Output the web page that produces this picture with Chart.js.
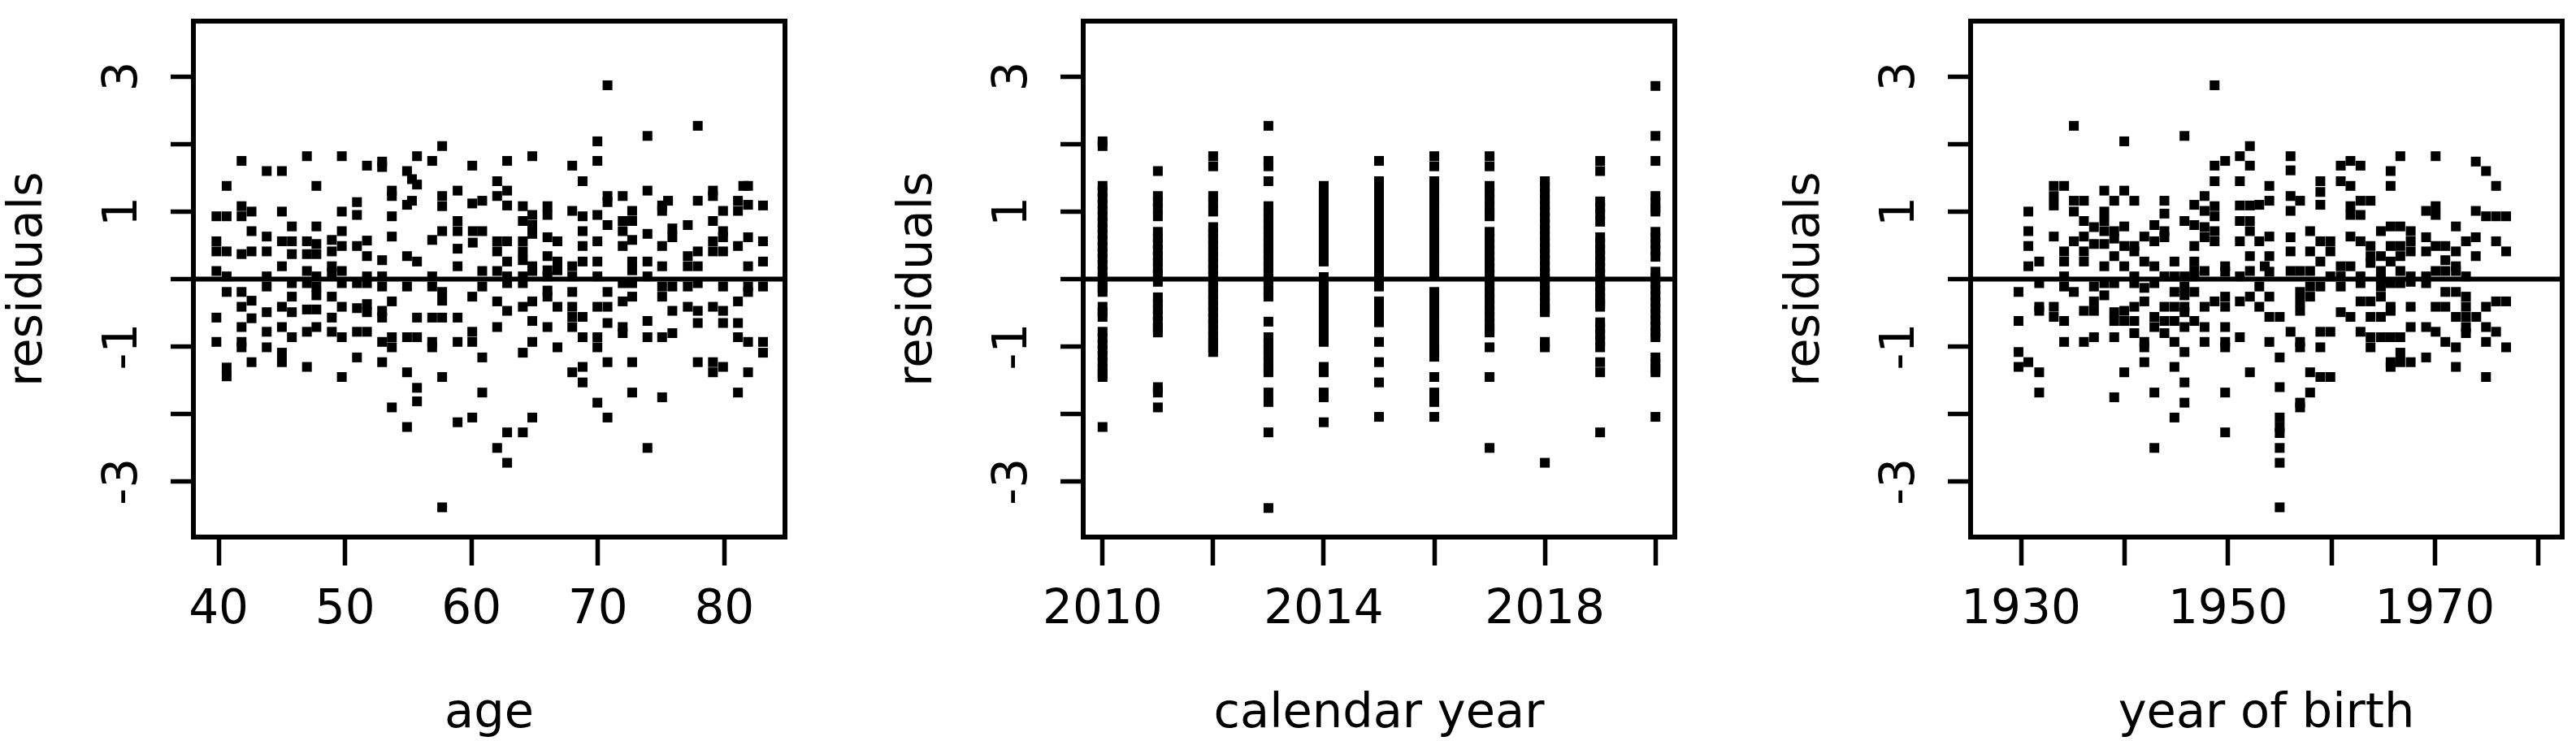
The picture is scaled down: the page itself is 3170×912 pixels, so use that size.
<!DOCTYPE html>
<html lang="en">
<head>
    <meta charset="UTF-8">
    <title>Residuals</title>
    <script src="https://cdn.jsdelivr.net/npm/chart.js"></script>
    <style>
        html, body { margin: 0; padding: 0; background: #fff; }
        body { width: 3170px; height: 912px; position: relative; overflow: hidden; }
        canvas { position: absolute; top: 0; }
    </style>
</head>
<body>
    <canvas id="ageChart" width="1095" height="912" style="left:0px"></canvas>
    <canvas id="yearChart" width="1092" height="912" style="left:1095px"></canvas>
    <canvas id="birthChart" width="983" height="912" style="left:2187px"></canvas>

    <script>
        // residuals against age: [age, residual]
        const ageResiduals = [
            [57.68,1.97],[41.81,1.75],[46.98,1.82],[49.74,1.82],[55.69,1.82],[56.89,1.75],[43.80,1.60],[45.00,1.60],
            [51.73,1.68],[52.93,1.74],[52.93,1.66],[60.06,1.68],[54.90,1.60],[55.29,1.48],[55.69,1.40],[40.63,1.38],
            [47.73,1.38],[53.70,1.31],[53.70,1.23],[58.90,1.31],[57.68,1.23],[57.68,1.08],[60.06,1.12],[60.85,1.16],
            [55.29,1.16],[54.90,1.10],[50.94,1.14],[50.94,0.95],[39.82,0.93],[40.63,0.93],[41.81,1.08],[42.60,1.00],
            [41.81,0.93],[45.00,1.00],[49.74,1.00],[53.70,0.93],[42.60,0.71],[45.79,0.78],[47.73,0.78],[49.74,0.71],
            [53.70,0.63],[58.90,0.86],[58.90,0.71],[58.90,0.45],[56.89,0.58],[57.68,0.71],[60.10,0.71],[60.85,0.71],
            [60.10,0.54],[39.82,0.56],[39.82,0.41],[40.63,0.41],[41.81,0.37],[42.60,0.41],[43.80,0.63],[43.80,0.41],
            [45.00,0.56],[45.79,0.56],[45.79,0.37],[46.98,0.56],[47.73,0.52],[46.98,0.37],[47.73,0.37],[48.95,0.58],
            [48.95,0.41],[48.95,0.19],[49.74,0.49],[50.94,0.49],[51.73,0.57],[51.73,0.34],[52.93,0.28],[54.90,0.34],
            [55.69,0.26],[39.82,0.12],[40.63,0.04],[43.80,0.04],[45.00,0.19],[46.98,0.12],[47.73,0.04],[48.95,0.10],
            [49.74,0.12],[51.73,0.04],[52.93,0.04],[56.89,0.04],[58.90,0.19],[60.85,0.12],[43.80,-0.11],[45.79,-0.06],
            [46.98,-0.06],[47.73,-0.11],[49.74,-0.06],[50.94,-0.06],[51.73,-0.06],[52.93,-0.11],[54.90,-0.11],[56.89,-0.11],
            [57.68,-0.19],[60.85,-0.11],[40.63,-0.19],[41.81,-0.19],[42.60,-0.32],[41.81,-0.41],[45.79,-0.26],[45.00,-0.41],
            [45.79,-0.49],[46.98,-0.45],[47.73,-0.24],[47.73,-0.45],[48.95,-0.26],[49.74,-0.41],[50.94,-0.43],[51.73,-0.37],
            [51.73,-0.49],[53.70,-0.33],[52.93,-0.47],[60.06,-0.26],[57.68,-0.32],[39.82,-0.57],[42.60,-0.58],[43.80,-0.49],
            [48.95,-0.57],[52.93,-0.57],[55.69,-0.57],[56.89,-0.57],[57.68,-0.57],[58.90,-0.57],[41.81,-0.71],[43.80,-0.78],
            [45.00,-0.71],[45.79,-0.86],[46.98,-0.78],[47.73,-0.71],[48.95,-0.78],[49.74,-0.86],[50.94,-0.78],[51.73,-0.78],
            [52.93,-0.93],[53.70,-0.86],[53.70,-1.01],[54.90,-0.86],[55.69,-0.86],[56.89,-0.93],[56.89,-1.01],[58.90,-0.93],
            [60.06,-0.78],[60.06,-0.93],[39.82,-0.93],[41.81,-0.93],[41.81,-1.01],[43.80,-1.01],[45.00,-1.09],[45.00,-1.23],
            [42.60,-1.23],[50.94,-1.16],[52.93,-1.23],[60.85,-1.16],[40.63,-1.31],[40.63,-1.44],[46.98,-1.30],[49.74,-1.45],
            [54.90,-1.38],[57.68,-1.45],[55.69,-1.61],[55.69,-1.81],[60.85,-1.68],[53.70,-1.90],[54.90,-2.19],[58.90,-2.12],
            [60.06,-2.05],[57.68,-3.38],
            [70.76,2.87],[77.90,2.27],[73.92,2.12],[69.96,2.04],[62.82,1.75],[64.81,1.82],[67.97,1.68],[69.96,1.75],
            [62.03,1.45],[68.79,1.45],[62.82,1.31],[62.03,1.23],[62.82,1.09],[70.76,1.23],[70.76,1.14],[71.96,1.23],
            [73.92,1.31],[75.55,1.16],[75.08,1.09],[75.08,1.01],[77.90,1.16],[79.10,1.31],[79.10,1.23],[81.50,1.38],
            [81.88,1.38],[81.08,1.16],[81.08,1.01],[81.88,1.10],[83.06,1.09],[79.90,1.01],[64.06,1.08],[64.06,0.86],
            [64.81,0.95],[64.81,0.80],[64.81,0.67],[66.01,1.08],[66.01,0.95],[67.97,1.01],[68.79,0.93],[68.79,0.71],
            [69.96,0.95],[70.76,0.80],[71.96,0.86],[71.96,0.71],[72.71,1.01],[72.71,0.86],[73.92,0.67],[75.89,0.75],
            [75.89,0.62],[77.11,0.80],[79.10,0.86],[79.90,0.71],[79.90,0.62],[62.03,0.56],[62.82,0.56],[62.03,0.41],
            [62.82,0.26],[64.06,0.56],[64.06,0.41],[64.06,0.28],[64.81,0.19],[66.01,0.62],[66.80,0.56],[66.01,0.34],
            [66.80,0.26],[66.80,0.13],[66.01,0.13],[67.97,0.19],[68.79,0.26],[68.79,0.49],[69.96,0.56],[69.96,0.26],
            [71.96,0.49],[72.71,0.58],[72.71,0.26],[72.71,0.13],[73.92,0.26],[75.08,0.49],[75.08,0.19],[77.11,0.34],
            [77.90,0.41],[77.90,0.19],[77.11,0.19],[79.10,0.56],[79.10,0.41],[79.90,0.41],[81.08,0.49],[81.88,0.62],
            [81.88,0.19],[83.06,0.56],[83.06,0.26],[62.03,0.12],[62.82,0.04],[64.06,0.04],[64.81,0.12],[66.01,0.04],
            [67.97,0.04],[69.96,0.04],[73.92,0.04],[62.82,-0.06],[64.06,-0.06],[66.01,-0.17],[67.97,-0.19],[70.76,-0.19],
            [71.96,-0.06],[72.71,-0.06],[75.08,-0.11],[75.89,-0.11],[75.08,-0.26],[77.11,-0.11],[77.90,-0.06],[79.90,-0.11],
            [81.88,-0.11],[81.88,-0.19],[83.06,-0.11],[62.03,-0.33],[62.82,-0.47],[64.06,-0.41],[64.81,-0.33],[66.01,-0.26],
            [66.80,-0.41],[67.97,-0.41],[67.97,-0.56],[68.79,-0.56],[69.96,-0.41],[70.76,-0.41],[70.76,-0.65],[71.96,-0.33],
            [72.71,-0.26],[75.89,-0.47],[77.11,-0.41],[77.90,-0.47],[77.90,-0.65],[79.10,-0.41],[79.90,-0.47],[79.90,-0.65],
            [81.08,-0.33],[81.08,-0.65],[62.03,-0.71],[64.81,-0.62],[66.01,-0.71],[67.97,-0.71],[71.96,-0.71],[71.96,-0.80],
            [73.92,-0.62],[73.92,-0.86],[75.08,-0.86],[75.89,-0.80],[81.08,-0.86],[81.88,-0.93],[83.06,-0.93],[83.06,-1.09],
            [64.81,-0.93],[64.06,-1.09],[66.80,-1.01],[68.79,-0.86],[69.96,-0.86],[69.96,-1.01],[67.97,-1.38],[68.79,-1.30],
            [68.79,-1.53],[70.76,-1.23],[72.71,-1.23],[77.90,-1.23],[79.10,-1.23],[79.10,-1.38],[79.90,-1.30],[81.88,-1.38],
            [72.71,-1.68],[75.08,-1.75],[81.08,-1.68],[69.96,-1.83],[64.81,-2.05],[70.76,-2.05],[62.82,-2.27],[64.06,-2.27],
            [62.03,-2.50],[73.92,-2.50],[62.82,-2.72]
        ];

        // residuals per calendar year
        const calendarYears = [2010, 2011, 2012, 2013, 2014, 2015, 2016, 2017, 2018, 2019, 2020];
        const res2010 = [2.04,1.97,1.38,1.29,1.2,1.11,1.02,0.93,0.84,0.75,0.66,0.57,0.48,0.39,0.3,0.21,0.12,0.03,-0.06,-0.13,-0.19,-0.41,-0.49,-0.56,-0.78,-0.87,-0.96,-1.05,-1.14,-1.23,-1.32,-1.4,-1.45,-2.19];
        const res2011 = [1.6,1.23,1.14,1.04,0.93,0.7,0.61,0.52,0.43,0.34,0.25,0.16,0.07,-0.04,-0.27,-0.36,-0.45,-0.54,-0.63,-0.72,-0.79,-1.6,-1.68,-1.9];
        const res2012 = [1.82,1.67,1.23,1.12,1.0,0.77,0.68,0.59,0.5,0.41,0.32,0.23,0.14,0.05,-0.04,-0.13,-0.22,-0.31,-0.4,-0.49,-0.58,-0.67,-0.76,-0.85,-0.94,-1.01,-1.08];
        const res2013 = [2.27,1.75,1.67,1.45,1.08,0.99,0.9,0.81,0.72,0.63,0.54,0.45,0.36,0.27,0.18,0.09,0.0,-0.09,-0.18,-0.26,-0.63,-0.86,-0.95,-1.04,-1.13,-1.22,-1.31,-1.38,-1.68,-1.82,-2.27,-3.39];
        const res2014 = [1.38,1.29,1.2,1.11,1.02,0.93,0.84,0.75,0.66,0.57,0.48,0.39,0.3,0.26,0.03,-0.06,-0.15,-0.24,-0.33,-0.42,-0.51,-0.6,-0.69,-0.78,-0.87,-0.93,-1.3,-1.38,-1.68,-1.75,-2.12];
        const res2015 = [1.75,1.45,1.36,1.27,1.18,1.09,1.0,0.91,0.82,0.73,0.64,0.55,0.46,0.37,0.28,0.19,0.1,0.01,-0.06,-0.11,-0.33,-0.42,-0.51,-0.58,-0.64,-0.93,-1.23,-1.53,-2.04];
        const res2016 = [1.82,1.67,1.45,1.36,1.27,1.18,1.09,1.0,0.91,0.82,0.73,0.64,0.55,0.46,0.37,0.28,0.19,0.1,-0.19,-0.28,-0.37,-0.46,-0.55,-0.64,-0.73,-0.82,-0.91,-1.0,-1.08,-1.15,-1.45,-1.68,-1.82,-2.04];
        const res2017 = [1.82,1.67,1.38,1.28,1.18,1.08,0.98,0.93,0.7,0.61,0.52,0.43,0.34,0.25,0.16,0.07,-0.02,-0.11,-0.2,-0.29,-0.38,-0.47,-0.56,-0.65,-0.73,-0.79,-1.01,-1.45,-2.5];
        const res2018 = [1.45,1.36,1.27,1.18,1.09,1.0,0.91,0.82,0.73,0.64,0.55,0.46,0.37,0.28,0.19,0.1,0.01,-0.08,-0.17,-0.26,-0.35,-0.43,-0.49,-0.93,-1.01,-2.72];
        const res2019 = [1.75,1.6,1.15,1.06,0.97,0.85,0.62,0.53,0.44,0.35,0.26,0.17,0.08,-0.01,-0.1,-0.19,-0.28,-0.36,-0.41,-0.64,-0.73,-0.82,-0.91,-1.01,-1.23,-1.38,-2.27];
        const res2020 = [2.86,2.12,1.75,1.23,1.14,1.05,1.0,0.7,0.61,0.52,0.43,0.33,0.11,0.02,-0.07,-0.16,-0.25,-0.34,-0.43,-0.52,-0.61,-0.7,-0.79,-0.86,-1.16,-1.25,-1.32,-1.38,-2.04];
        const yearResiduals = [res2010, res2011, res2012, res2013, res2014, res2015, res2016, res2017, res2018, res2019, res2020];

        // residuals against year of birth: [year, residual]
        const birthResiduals = [
            [1948.71,2.87],[1935.11,2.27],[1945.80,2.12],[1939.98,2.04],[1952.12,1.97],[1951.15,1.82],[1949.73,1.75],[1948.71,1.68],
            [1952.12,1.68],[1948.71,1.45],[1951.15,1.45],[1933.17,1.38],[1934.17,1.38],[1933.17,1.23],[1933.17,1.09],[1938.05,1.31],
            [1939.98,1.31],[1939.01,1.16],[1940.95,1.16],[1947.74,1.23],[1943.86,1.16],[1943.86,0.97],[1946.75,1.10],[1947.74,1.01],
            [1948.71,1.08],[1948.71,0.93],[1951.15,1.09],[1952.12,1.09],[1930.71,1.00],[1935.11,1.16],[1936.08,1.16],[1935.11,1.00],
            [1938.05,1.00],[1938.05,0.86],[1936.08,0.86],[1937.05,0.77],[1938.05,0.71],[1939.01,0.71],[1939.98,0.78],[1942.89,0.80],
            [1945.80,0.86],[1946.75,0.80],[1947.74,0.77],[1947.74,0.62],[1948.71,0.71],[1948.71,0.56],[1951.15,0.86],[1952.12,0.86],
            [1952.12,0.71],[1951.15,0.56],[1930.71,0.71],[1933.17,0.63],[1935.11,0.56],[1936.08,0.63],[1937.05,0.52],[1938.05,0.52],
            [1939.01,0.60],[1939.98,0.49],[1940.95,0.49],[1940.95,0.41],[1941.92,0.63],[1942.89,0.56],[1943.86,0.71],[1943.86,0.62],
            [1946.75,0.49],[1930.71,0.49],[1934.17,0.41],[1934.17,0.26],[1936.08,0.41],[1936.08,0.26],[1939.01,0.34],[1938.05,0.19],
            [1939.98,0.19],[1941.92,0.26],[1942.89,0.19],[1944.83,0.26],[1946.75,0.26],[1946.75,0.12],[1947.74,0.12],[1949.73,0.19],
            [1949.73,0.11],[1930.71,0.19],[1931.76,0.26],[1952.12,0.34],[1934.17,0.04],[1940.95,0.04],[1943.86,0.04],[1944.83,0.04],
            [1945.80,0.04],[1946.75,0.04],[1951.15,0.04],[1952.12,0.12],[1929.76,-0.19],[1931.76,-0.06],[1934.17,-0.11],[1935.11,-0.19],
            [1937.05,-0.11],[1938.05,-0.06],[1938.05,-0.24],[1939.01,-0.06],[1940.95,-0.06],[1941.92,-0.13],[1942.89,-0.06],[1944.83,-0.19],
            [1945.80,-0.11],[1946.75,-0.19],[1945.80,-0.24],[1937.05,-0.33],[1936.08,-0.47],[1937.05,-0.47],[1941.92,-0.33],[1940.95,-0.41],
            [1939.98,-0.47],[1939.01,-0.49],[1943.86,-0.41],[1944.83,-0.41],[1945.80,-0.41],[1945.80,-0.49],[1947.74,-0.41],[1948.71,-0.33],
            [1949.73,-0.26],[1949.73,-0.41],[1951.15,-0.33],[1952.12,-0.26],[1931.76,-0.41],[1931.76,-0.47],[1933.17,-0.41],[1933.17,-0.56],
            [1934.17,-0.62],[1929.76,-0.62],[1939.01,-0.62],[1939.98,-0.62],[1940.95,-0.62],[1940.95,-0.80],[1942.89,-0.56],[1942.89,-0.71],
            [1943.86,-0.62],[1943.86,-0.80],[1944.83,-0.62],[1945.80,-0.71],[1946.75,-0.62],[1947.74,-0.71],[1949.73,-0.71],[1934.17,-0.93],
            [1936.08,-0.93],[1937.05,-0.86],[1939.01,-0.86],[1941.92,-0.93],[1941.92,-1.01],[1944.83,-0.93],[1945.80,-1.08],[1947.74,-0.93],
            [1949.73,-0.93],[1949.73,-1.01],[1951.15,-0.86],[1929.76,-1.08],[1930.71,-1.23],[1929.76,-1.30],[1931.76,-1.38],[1939.98,-1.38],
            [1941.92,-1.23],[1944.83,-1.30],[1952.12,-1.38],[1945.80,-1.53],[1931.76,-1.68],[1939.01,-1.75],[1942.89,-1.68],[1949.73,-1.68],
            [1945.80,-1.83],[1944.83,-2.05],[1949.73,-2.27],[1942.89,-2.50],
            [1956.05,1.82],[1956.05,1.61],[1966.66,1.82],[1970.07,1.82],[1973.95,1.74],[1974.94,1.60],[1961.84,1.75],[1960.90,1.68],
            [1962.81,1.68],[1965.72,1.60],[1954.00,1.38],[1954.00,1.16],[1953.03,1.10],[1956.05,1.23],[1956.97,1.16],[1956.05,1.01],
            [1958.93,1.45],[1958.93,1.29],[1958.93,1.10],[1960.90,1.45],[1961.84,1.38],[1965.72,1.38],[1975.91,1.38],[1961.84,1.08],
            [1962.81,1.16],[1963.78,1.16],[1961.84,0.95],[1962.81,0.95],[1969.15,1.01],[1970.07,1.08],[1970.07,0.95],[1973.95,1.01],
            [1974.94,0.93],[1975.91,0.93],[1976.88,0.93],[1954.00,0.63],[1953.03,0.56],[1956.05,0.62],[1956.05,0.41],[1957.94,0.71],
            [1958.93,0.56],[1959.90,0.56],[1959.90,0.41],[1957.94,0.41],[1958.93,0.26],[1961.84,0.63],[1962.81,0.56],[1963.78,0.49],
            [1963.78,0.34],[1964.78,0.71],[1965.72,0.78],[1966.66,0.78],[1967.66,0.71],[1967.66,0.56],[1966.66,0.49],[1965.72,0.49],
            [1967.66,0.41],[1963.78,0.24],[1964.78,0.34],[1965.72,0.26],[1966.66,0.34],[1969.15,0.62],[1969.15,0.41],[1970.07,0.49],
            [1971.01,0.49],[1972.03,0.78],[1972.03,0.41],[1971.01,0.28],[1972.03,0.19],[1973.00,0.56],[1973.95,0.62],[1973.95,0.34],
            [1975.91,0.56],[1976.88,0.41],[1954.00,0.34],[1953.56,0.19],[1954.00,0.11],[1956.05,0.12],[1956.97,0.12],[1957.94,0.12],
            [1959.90,0.04],[1960.90,0.19],[1961.84,0.19],[1960.90,0.04],[1962.81,0.04],[1964.78,0.12],[1964.78,0.00],[1966.66,0.12],
            [1967.66,0.04],[1969.15,0.04],[1970.07,0.12],[1971.01,0.12],[1972.03,0.12],[1973.00,0.04],[1953.03,-0.11],[1954.00,-0.26],
            [1953.03,-0.41],[1956.97,-0.19],[1957.94,-0.11],[1958.93,-0.11],[1956.97,-0.33],[1956.97,-0.47],[1957.94,-0.26],[1960.90,-0.11],
            [1962.81,-0.06],[1964.78,-0.11],[1965.72,-0.06],[1966.66,-0.06],[1967.66,-0.04],[1969.15,-0.06],[1962.81,-0.33],[1963.78,-0.33],
            [1964.78,-0.26],[1965.72,-0.41],[1965.72,-0.47],[1967.66,-0.41],[1970.07,-0.41],[1971.01,-0.19],[1971.01,-0.41],[1972.03,-0.19],
            [1973.00,-0.26],[1973.00,-0.41],[1974.94,-0.41],[1975.91,-0.33],[1976.88,-0.33],[1954.00,-0.56],[1955.00,-0.56],[1960.90,-0.49],
            [1961.84,-0.56],[1963.78,-0.56],[1964.78,-0.56],[1972.03,-0.56],[1973.00,-0.56],[1974.00,-0.56],[1973.00,-0.71],[1973.00,-0.80],
            [1956.05,-0.78],[1958.93,-0.78],[1959.90,-0.78],[1962.81,-0.78],[1963.78,-0.86],[1964.78,-0.86],[1965.72,-0.86],[1966.66,-0.86],
            [1967.66,-0.71],[1969.15,-0.71],[1970.07,-0.78],[1971.01,-0.93],[1972.03,-1.01],[1974.94,-0.71],[1975.91,-0.78],[1974.94,-0.93],
            [1976.88,-1.01],[1954.00,-0.93],[1956.97,-0.93],[1956.97,-1.01],[1958.93,-1.01],[1963.78,-1.01],[1966.66,-1.09],[1965.72,-1.23],
            [1965.72,-1.30],[1966.66,-1.23],[1967.66,-1.23],[1969.15,-1.16],[1972.03,-1.30],[1955.00,-1.16],[1957.94,-1.38],[1958.93,-1.45],
            [1959.90,-1.45],[1974.94,-1.45],[1955.00,-1.60],[1957.94,-1.68],[1956.97,-1.83],[1956.97,-1.90],[1955.00,-2.05],[1955.00,-2.19],
            [1955.00,-2.28],[1955.00,-2.50],[1955.00,-2.72],[1955.00,-3.38]
        ];

        // tick labels (R drops the ones that would overlap)
        const residualTickLabels = [-3, -1, 1, 3];
        const ageTickLabels = [40, 50, 60, 70, 80];
        const yearTickLabels = [2010, 2014, 2018];
        const birthTickLabels = [1930, 1950, 1970];

        Chart.defaults.font.family = "'DejaVu Sans', sans-serif";
        Chart.defaults.color = '#000';

        const BOX_LEFT = 238;   // plot box left edge inside each canvas
        const BOX_WIDTH = 728;
        const BOX_TOP = 26;
        const BOX_BOTTOM = 661;
        const CANVAS_H = 912;
        const TICK_FONT = { size: 58, lineHeight: 1 };
        const TITLE_FONT = { size: 59, lineHeight: 1 };

        // draws the frame around the plot region, like R's box()
        const boxPlugin = {
            id: 'plotBox',
            afterDatasetsDraw(chart) {
                const { ctx, chartArea: a } = chart;
                ctx.save();
                ctx.strokeStyle = '#000';
                ctx.lineWidth = 6;
                ctx.strokeRect(a.left, a.top, a.right - a.left, a.bottom - a.top);
                ctx.restore();
            }
        };

        function makePanel(id, points, xMin, xMax, xStep, xLabels, xTitle) {
            const canvas = document.getElementById(id);
            const rightPad = canvas.width - BOX_LEFT - BOX_WIDTH;
            return new Chart(canvas, {
                data: {
                    datasets: [
                        {
                            type: 'line',
                            data: [{ x: xMin, y: 0 }, { x: xMax, y: 0 }],
                            borderColor: '#000',
                            borderWidth: 6,
                            pointRadius: 0
                        },
                        {
                            type: 'scatter',
                            data: points,
                            pointStyle: 'rect',
                            pointRadius: 8.5,
                            backgroundColor: '#000',
                            pointBackgroundColor: '#000',
                            borderWidth: 0,
                            pointBorderWidth: 0
                        }
                    ]
                },
                options: {
                    responsive: false,
                    animation: false,
                    devicePixelRatio: 1,
                    events: [],
                    layout: { padding: { top: BOX_TOP, left: 0, right: rightPad, bottom: 0 } },
                    plugins: { legend: { display: false }, tooltip: { enabled: false } },
                    scales: {
                        x: {
                            type: 'linear',
                            position: 'bottom',
                            min: xMin,
                            max: xMax,
                            afterFit: s => { s.height = CANVAS_H - BOX_BOTTOM; s.paddingLeft = 0; s.paddingRight = 0; },
                            border: { display: false },
                            grid: { drawOnChartArea: false, drawTicks: true, tickLength: 35, tickWidth: 5.5, tickColor: '#000' },
                            ticks: {
                                stepSize: xStep,
                                includeBounds: false,
                                autoSkip: false,
                                minRotation: 0,
                                maxRotation: 0,
                                padding: 27,
                                font: TICK_FONT,
                                callback: v => xLabels.includes(v) ? String(v) : ''
                            },
                            title: { display: true, text: xTitle, font: TITLE_FONT, padding: { top: 0, bottom: 3 } }
                        },
                        y: {
                            type: 'linear',
                            min: -3.82,
                            max: 3.82,
                            afterFit: s => { s.width = BOX_LEFT; s.paddingTop = 0; s.paddingBottom = 0; },
                            border: { display: false },
                            grid: { drawOnChartArea: false, drawTicks: true, tickLength: 28, tickWidth: 5.5, tickColor: '#000' },
                            ticks: {
                                stepSize: 1,
                                includeBounds: false,
                                autoSkip: false,
                                minRotation: 90,
                                maxRotation: 90,
                                crossAlign: 'center',
                                padding: 28,
                                font: TICK_FONT,
                                callback: v => residualTickLabels.includes(v) ? String(v) : ''
                            },
                            title: { display: true, text: 'residuals', font: TITLE_FONT, padding: { top: 6, bottom: 0 } }
                        }
                    }
                },
                plugins: [boxPlugin]
            });
        }

        const agePoints = ageResiduals.map(p => ({ x: p[0], y: p[1] }));
        const yearPoints = calendarYears.flatMap((yr, i) => yearResiduals[i].map(r => ({ x: yr, y: r })));
        const birthPoints = birthResiduals.map(p => ({ x: p[0], y: p[1] }));

        makePanel('ageChart', agePoints, 38.0, 84.8, 10, ageTickLabels, 'age');
        makePanel('yearChart', yearPoints, 2009.65, 2020.35, 2, yearTickLabels, 'calendar year');
        makePanel('birthChart', birthPoints, 1925.13, 1982.3, 10, birthTickLabels, 'year of birth');
    </script>
</body>
</html>
